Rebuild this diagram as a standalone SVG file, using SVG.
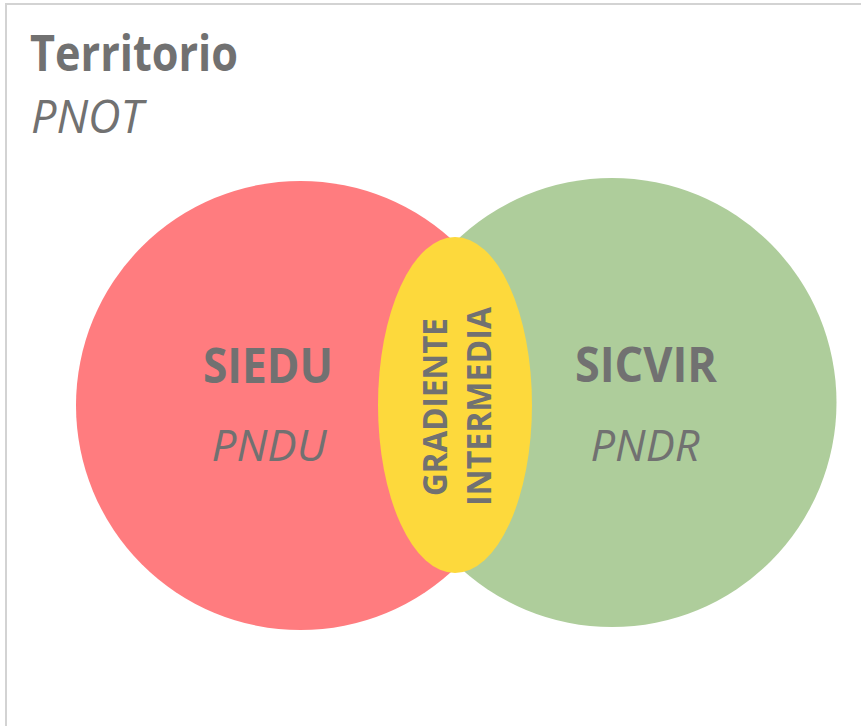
<svg xmlns="http://www.w3.org/2000/svg" width="861" height="726" viewBox="0 0 861 726">
  <style>
    .t { font-family: "Open Sans", "Liberation Sans", sans-serif; fill: #717171; }
    .b { font-weight: bold; }
    .i { font-style: italic; }
    .frame { stroke: #d3d3d3; stroke-width: 2; fill: none; }
  </style>
  <rect x="0" y="0" width="861" height="726" fill="#ffffff"/>
  <path class="frame" d="M6 726 V4 H861"/>
  <g id="title">
    <text class="t b" x="30" y="71" font-size="50" textLength="208" lengthAdjust="spacingAndGlyphs">Territorio</text>
    <text class="t i" x="31" y="133" font-size="46" textLength="112" lengthAdjust="spacingAndGlyphs">PNOT</text>
  </g>
  <g id="siedu">
    <circle cx="300.5" cy="405.5" r="224.5" fill="#ff7c7f"/>
  </g>
  <g id="sicvir">
    <circle cx="612" cy="402.5" r="224.5" fill="#aecd9b"/>
  </g>
  <g id="gradiente">
    <ellipse cx="455" cy="405" rx="77" ry="168" fill="#fdd93c"/>
  </g>
  <g id="labels">
    <text class="t b" x="268" y="383" font-size="48" text-anchor="middle" textLength="130" lengthAdjust="spacingAndGlyphs">SIEDU</text>
    <text class="t i" x="269" y="461" font-size="44" text-anchor="middle" textLength="115" lengthAdjust="spacingAndGlyphs">PNDU</text>
    <text class="t b" x="646" y="382" font-size="48" text-anchor="middle" textLength="142" lengthAdjust="spacingAndGlyphs">SICVIR</text>
    <text class="t i" x="645" y="461" font-size="44" text-anchor="middle" textLength="109" lengthAdjust="spacingAndGlyphs">PNDR</text>
    <text class="t b" x="447" y="407" font-size="34" text-anchor="middle" transform="rotate(-90 447 407)" textLength="178" lengthAdjust="spacingAndGlyphs">GRADIENTE</text>
    <text class="t b" x="491" y="406.5" font-size="34" text-anchor="middle" transform="rotate(-90 491 406.5)" textLength="199" lengthAdjust="spacingAndGlyphs">INTERMEDIA</text>
  </g>
</svg>
